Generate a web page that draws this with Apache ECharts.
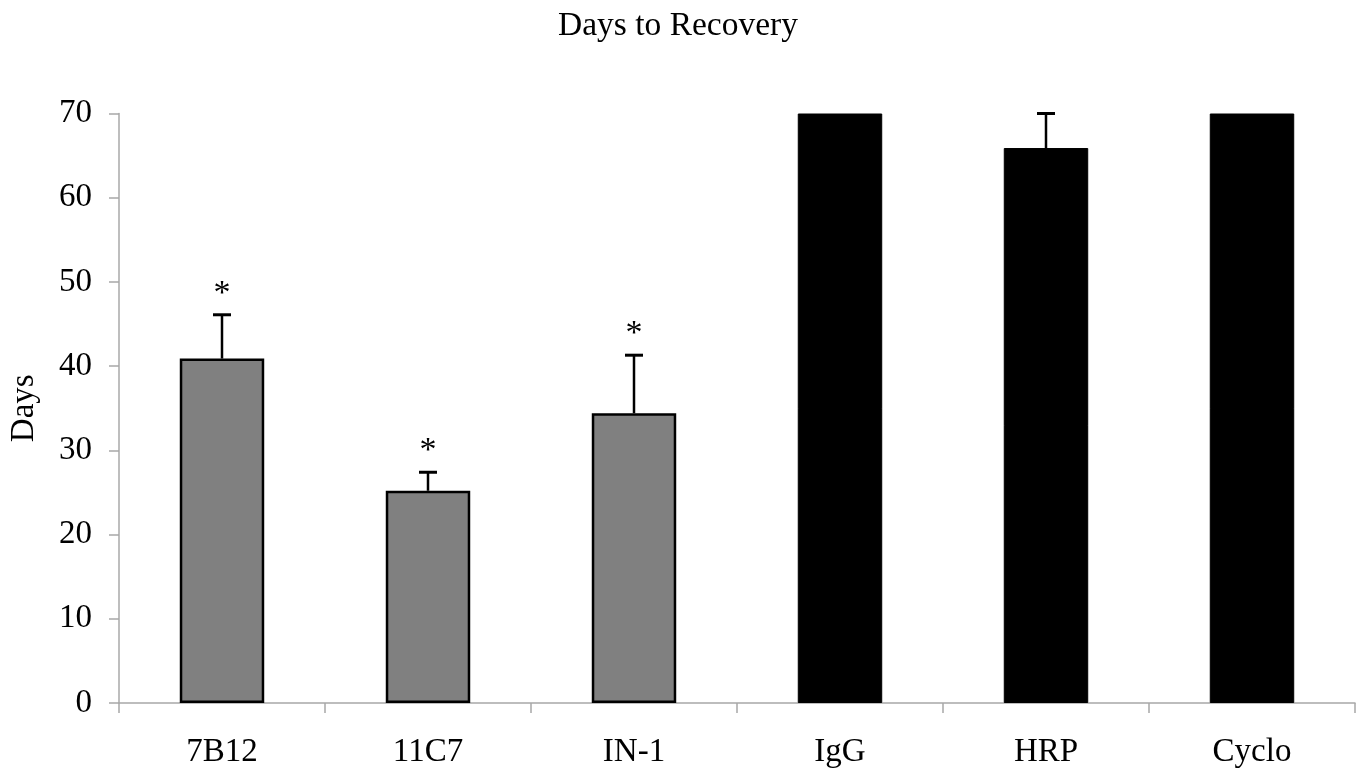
<!DOCTYPE html>
<html>
<head>
<meta charset="utf-8">
<script src="https://cdn.jsdelivr.net/npm/echarts@6/dist/echarts.min.js"></script>
<style>html,body{margin:0;padding:0;background:#fff}#chart{width:1361px;height:774px}</style>
</head>
<body>
<div id="chart"></div>
<script>
const categories = ['7B12', '11C7', 'IN-1', 'IgG', 'HRP', 'Cyclo'];
const meanDays = [40.9, 25.2, 34.4, 70, 65.9, 70];
const errorTop = [46.1, 27.4, 41.3, null, 70, null];
const significance = ['*', '*', '*', '', '', ''];
const groups = ['antibody', 'antibody', 'antibody', 'control', 'control', 'control'];
const yTicks = { min: 0, max: 70, interval: 10 };

const FONT = '"Liberation Serif", "Times New Roman", serif';
const chart = echarts.init(document.getElementById('chart'), null, { renderer: 'canvas' });

const barData = meanDays.map((v, i) => ({
  value: v,
  itemStyle: groups[i] === 'antibody'
    ? { color: '#808080', borderColor: '#000', borderWidth: 2.5 }
    : { color: '#000', borderColor: '#000', borderWidth: 1 }
}));

const errData = categories.map((c, i) => [i, meanDays[i], errorTop[i]]);

chart.setOption({
  animation: false,
  backgroundColor: '#fff',
  title: {
    text: 'Days to Recovery',
    left: 553,
    top: 4,
    textStyle: { fontFamily: FONT, fontSize: 33.5, fontWeight: 'normal', color: '#000' }
  },
  grid: { left: 118, right: 6, top: 113.5, bottom: 71, containLabel: false },
  xAxis: {
    type: 'category',
    data: categories,
    boundaryGap: true,
    axisLine: { lineStyle: { color: '#a8a8a8', width: 1.5 } },
    axisTick: { show: true, length: 10, lineStyle: { color: '#a8a8a8', width: 1.5 } },
    axisLabel: { fontFamily: FONT, fontSize: 33, color: '#000', margin: 33 },
    splitLine: { show: false }
  },
  yAxis: {
    type: 'value',
    min: yTicks.min,
    max: yTicks.max,
    interval: yTicks.interval,
    name: 'Days',
    nameLocation: 'middle',
    nameGap: 78,
    nameRotate: 90,
    nameTextStyle: { fontFamily: FONT, fontSize: 33, color: '#000' },
    axisLine: { show: true, lineStyle: { color: '#a8a8a8', width: 1.5 } },
    axisTick: { show: true, length: 10, lineStyle: { color: '#a8a8a8', width: 1.5 } },
    axisLabel: { fontFamily: FONT, fontSize: 33, color: '#000', margin: 27 },
    splitLine: { show: false }
  },
  series: [
    {
      type: 'bar',
      data: barData,
      barWidth: '41%',
      z: 2
    },
    {
      type: 'custom',
      z: 3,
      data: errData,
      encode: { x: 0, y: [1, 2] },
      renderItem: function (params, api) {
        const i = api.value(0);
        const lo = api.value(1);
        const hi = api.value(2);
        const mark = significance[params.dataIndex];
        if (hi == null || isNaN(hi)) return { type: 'group', children: [] };
        const pLo = api.coord([i, lo]);
        const pHi = api.coord([i, hi]);
        const half = 9;
        const children = [
          { type: 'line', shape: { x1: pLo[0], y1: pLo[1], x2: pHi[0], y2: pHi[1] }, style: { stroke: '#000', lineWidth: 2.5 } },
          { type: 'line', shape: { x1: pHi[0] - half, y1: pHi[1], x2: pHi[0] + half, y2: pHi[1] }, style: { stroke: '#000', lineWidth: 3 } }
        ];
        if (mark) {
          children.push({
            type: 'text',
            x: pHi[0],
            y: pHi[1] - 4,
            style: { text: mark, fontFamily: FONT, fontSize: 34, fill: '#000', align: 'center', verticalAlign: 'bottom' }
          });
        }
        return { type: 'group', children: children };
      }
    }
  ]
});
</script>
</body>
</html>
